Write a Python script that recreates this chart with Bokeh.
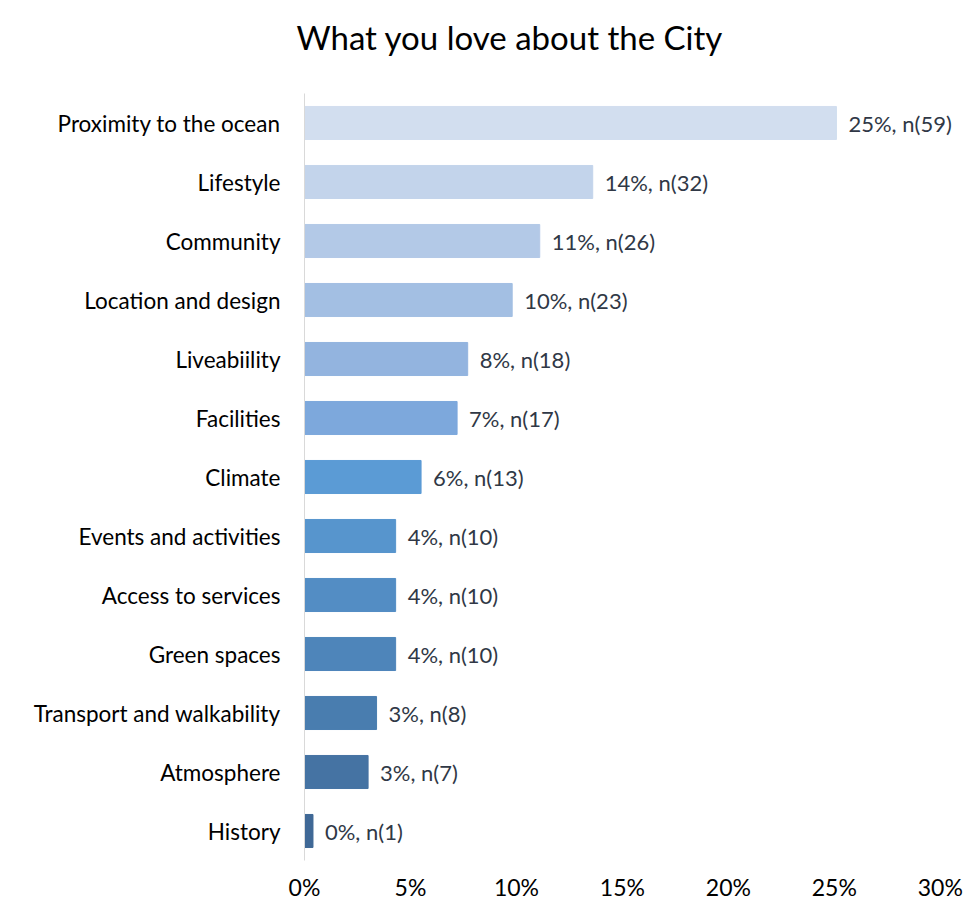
from bokeh.plotting import figure
from bokeh.models import ColumnDataSource, FactorRange, Range1d, FixedTicker, PrintfTickFormatter, LabelSet, Title
from bokeh.core.properties import value
from bokeh.embed import file_html
from bokeh.resources import INLINE

categories = ["Proximity to the ocean", "Lifestyle", "Community", "Location and design",
              "Liveabiility", "Facilities", "Climate", "Events and activities",
              "Access to services", "Green spaces", "Transport and walkability",
              "Atmosphere", "History"]
percent = [25.1, 13.6, 11.1, 9.8, 7.7, 7.2, 5.5, 4.3, 4.3, 4.3, 3.4, 3.0, 0.4]
pct_label = [25, 14, 11, 10, 8, 7, 6, 4, 4, 4, 3, 3, 0]
counts = [59, 32, 26, 23, 18, 17, 13, 10, 10, 10, 8, 7, 1]
bar_colors = ["#D2DEEF", "#C3D4EB", "#B3C9E7", "#A3BFE3", "#93B4DF", "#7DA8DC", "#5B9BD5",
              "#5795CD", "#538DC4", "#4E85BA", "#497DAF", "#4573A3", "#3F6896"]
x_ticks = [0, 5, 10, 15, 20, 25, 30]
title_text = "What you love about the City"

FONT = "Lato"

src = ColumnDataSource(dict(
    cat=categories, val=percent, color=bar_colors,
    label=[f"{p}%, n({n})" for p, n in zip(pct_label, counts)],
))

p = figure(width=963, height=903, output_backend="svg", toolbar_location=None,
           y_range=FactorRange(*reversed(categories), range_padding=0),
           x_range=Range1d(0, 31), title=None,
           min_border_left=304, min_border_right=2, min_border_top=93, min_border_bottom=41)

p.hbar(y="cat", right="val", left=0, height=0.56, color="color", source=src)

labels = LabelSet(x="val", y="cat", text="label", source=src, x_offset=12,
                  text_font=value(FONT), text_font_size="22px", text_color="#303846",
                  text_baseline="middle")
p.add_layout(labels)

# spacer between frame and title (closest to the frame)
spacer = Title(text=" ", text_font_size="1px", standoff=34, text_color="white")
p.add_layout(spacer, "above")

main_title = Title(text=title_text, text_font=FONT, text_font_size="33px",
                   text_font_style="normal", text_color="#000000",
                   align="left", offset=-8, standoff=0, vertical_align="bottom")
p.add_layout(main_title, "above")

p.xaxis.ticker = FixedTicker(ticks=x_ticks)
p.xaxis.formatter = PrintfTickFormatter(format="%d%%")
p.xaxis.axis_line_color = None
p.xaxis.major_tick_line_color = None
p.xaxis.minor_tick_line_color = None
p.xaxis.major_tick_in = 0
p.xaxis.major_tick_out = 0
p.xaxis.major_label_standoff = 12
p.xaxis.major_label_text_line_height = 1.0
p.xaxis.major_label_text_font = FONT
p.xaxis.major_label_text_font_size = "23px"
p.xaxis.major_label_text_color = "#000000"

p.yaxis.axis_line_color = "#D9D9D9"
p.yaxis.axis_line_width = 1
p.yaxis.major_tick_line_color = None
p.yaxis.minor_tick_line_color = None
p.yaxis.major_tick_in = 0
p.yaxis.major_tick_out = 0
p.yaxis.major_label_standoff = 24
p.yaxis.major_label_text_font = FONT
p.yaxis.major_label_text_font_size = "22.5px"
p.yaxis.major_label_text_color = "#000000"

p.xgrid.visible = False
p.ygrid.visible = False
p.outline_line_color = None
p.background_fill_color = "white"
p.border_fill_color = "white"

open("out.html", "w").write(file_html(p, INLINE))
